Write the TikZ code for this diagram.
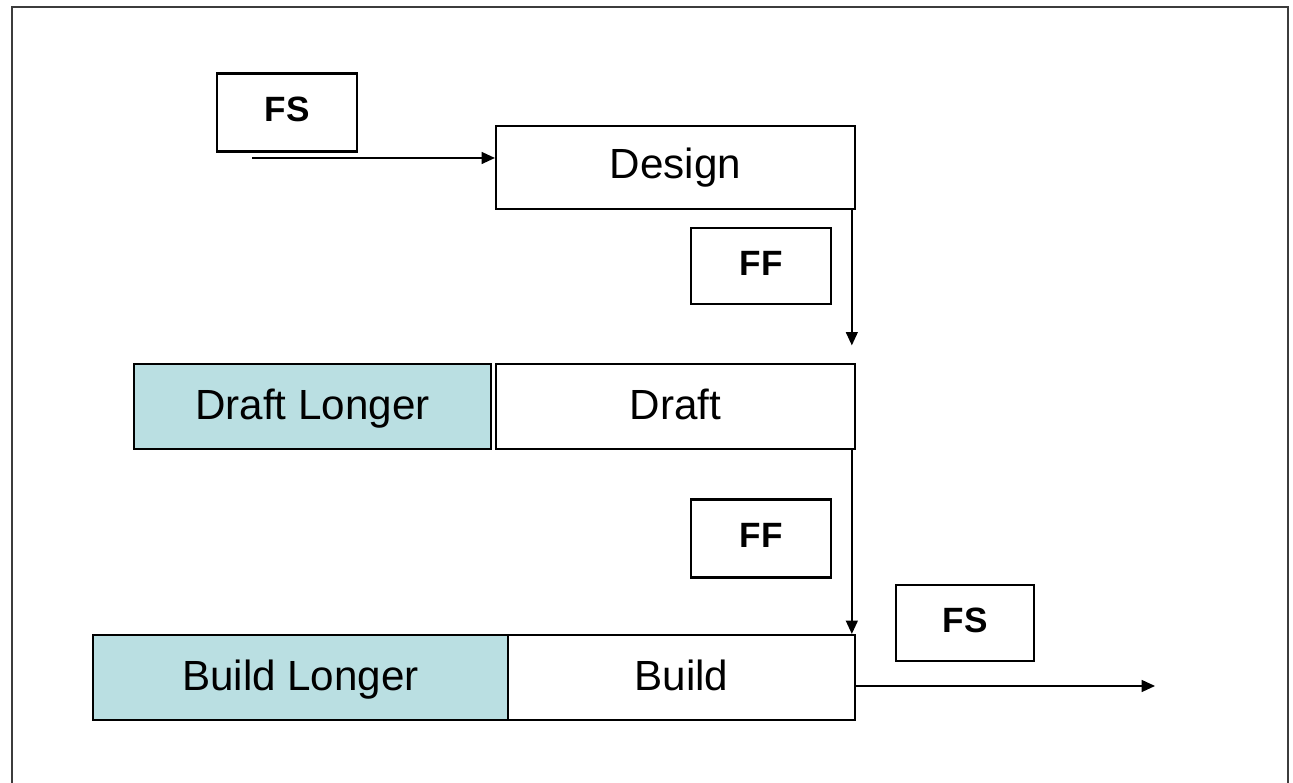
\documentclass[tikz,border=0pt]{standalone}
\usepackage{fontspec}
\setmainfont{Liberation Sans}
\usetikzlibrary{arrows.meta}

\definecolor{longfill}{RGB}{186,223,226}
\definecolor{framegray}{RGB}{60,60,60}

\tikzset{
  task/.style={draw, line width=0.6pt, minimum height=0.85cm, inner sep=0pt,
    text height=1.6ex, text depth=0.25ex, font=\fontsize{12}{14}\selectfont},
  lag/.style={draw, line width=0.6pt, minimum width=1.4cm, minimum height=0.78cm,
    inner sep=0pt, text height=1.6ex, text depth=0.6ex,
    font=\fontsize{10}{12}\selectfont\bfseries},
  link/.style={line width=0.45pt, -{Triangle[length=3.8pt,width=3.4pt]}}
}

\begin{document}
\begin{tikzpicture}
         \useasboundingbox (0,0) rectangle (12.93,7.83);
         % outer frame, open at the bottom
         \draw[framegray, line width=0.7pt] (0.12,0) -- (0.12,7.76) -- (12.88,7.76) -- (12.88,0);

         \node[lag] (fsA) at (2.87,6.705) {FS};
         \node[task, minimum width=3.59cm, minimum height=0.83cm, text depth=0.45ex] (design) at (6.755,6.155) {Design};
         \node[lag, minimum height=0.76cm] (ffA) at (7.61,5.17) {FF};
         \node[task, fill=longfill, minimum width=3.57cm] (draftlong) at (3.125,3.765) {Draft Longer};
         \node[task, minimum width=3.59cm] (draft) at (6.755,3.765) {Draft};
         \node[lag] (ffB) at (7.61,2.445) {FF};
         \node[task, fill=longfill, minimum width=4.15cm] (buildlong) at (3.005,1.055) {Build Longer};
         \node[task, minimum width=3.47cm] (build) at (6.815,1.055) {Build};
         \node[lag, minimum width=1.38cm, minimum height=0.76cm] (fsB) at (9.65,1.60) {FS};

         \coordinate (start) at (2.52,6.25);
         \coordinate (finish) at (11.55,0.97);
         \draw[link] (start) -- (design.west |- start);
         \draw[link, shorten >=5pt] ([xshift=-1.2pt]design.south east) -- ([xshift=-1.2pt]draft.north east);
         \draw[link] ([xshift=-1.2pt]draft.south east) -- ([xshift=-1.2pt]build.north east);
         \draw[link] (build.east |- finish) -- (finish);
      \end{tikzpicture}
\end{document}
